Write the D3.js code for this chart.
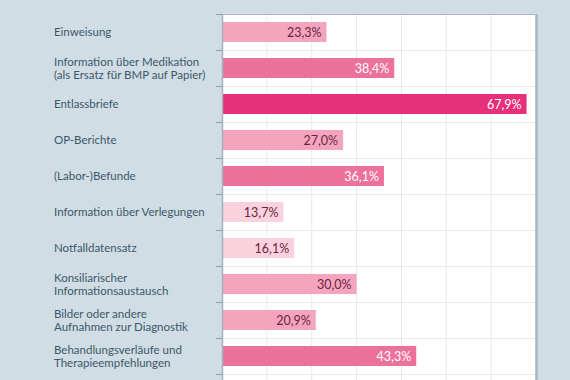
<!DOCTYPE html>
<html><head><meta charset="utf-8">
<script src="https://cdn.jsdelivr.net/npm/d3@7"></script>
<style>
html,body{margin:0;padding:0;background:#d0dde4;}
svg{display:block;}
</style></head>
<body>
<svg id="c" width="570" height="380"></svg>
<script>
const categories = [
  ["Einweisung"],
  ["Information über Medikation", "(als Ersatz für BMP auf Papier)"],
  ["Entlassbriefe"],
  ["OP-Berichte"],
  ["(Labor-)Befunde"],
  ["Information über Verlegungen"],
  ["Notfalldatensatz"],
  ["Konsiliarischer", "Informationsaustausch"],
  ["Bilder oder andere", "Aufnahmen zur Diagnostik"],
  ["Behandlungsverläufe und", "Therapieempfehlungen"]
];
const values = [23.3, 38.4, 67.9, 27.0, 36.1, 13.7, 16.1, 30.0, 20.9, 43.3];
const xTicks = [0, 10, 20, 30, 40, 50, 60, 70];

(function() {
const svg = d3.select("#c");
const pL = 222, pR = 536, pT = 14, bandH = 36;
const x = d3.scaleLinear().domain([0, 70]).range([pL, pR]);
const y = d3.scaleBand().domain(d3.range(values.length)).range([pT, pT + bandH * values.length]).paddingInner(0).paddingOuter(0);

const fill = d3.scaleThreshold().domain([20, 35, 50]).range(["#f9d2de", "#f3a5be", "#ec729b", "#e6307a"]);
const labelCol = d3.scaleThreshold().domain([35]).range(["#6e1f40", "#ffffff"]);

svg.append("rect").attr("x", pL).attr("y", pT).attr("width", pR - pL).attr("height", 400).attr("fill", "#ffffff");

svg.append("g").selectAll("line").data(xTicks.slice(1)).join("line")
  .attr("x1", d => x(d)).attr("x2", d => x(d)).attr("y1", pT).attr("y2", 390)
  .attr("stroke", "#e4eaee").attr("stroke-width", 1);
const bounds = d3.range(values.length + 1).map(i => pT + i * bandH);
svg.append("g").selectAll("line").data(bounds).join("line")
  .attr("x1", pL).attr("x2", pR).attr("y1", d => d + 0.5).attr("y2", d => d + 0.5)
  .attr("stroke", "#e4eaee").attr("stroke-width", 1);

const bh = 20;
svg.append("g").selectAll("rect").data(values).join("rect")
  .attr("x", pL).attr("y", (d, i) => y(i) + (bandH - bh) / 2)
  .attr("width", d => x(d) - pL).attr("height", bh)
  .attr("fill", d => fill(d));

svg.append("g").selectAll("text").data(values).join("text")
  .attr("x", d => x(d) - 5).attr("y", (d, i) => y(i) + bandH / 2)
  .attr("dy", "0.36em").attr("text-anchor", "end")
  .attr("font-family", "Lato, 'Open Sans', sans-serif").attr("font-size", 12.5)
  .attr("fill", d => labelCol(d))
  .text(d => d.toFixed(1).replace(".", ",") + "%");

svg.append("line").attr("x1", pL).attr("x2", pR).attr("y1", pT + 0.5).attr("y2", pT + 0.5)
  .attr("stroke", "#a9b8c2").attr("stroke-width", 1);
svg.append("line").attr("x1", pR + 0.5).attr("x2", pR + 0.5).attr("y1", pT).attr("y2", 390)
  .attr("stroke", "#a7b6c0").attr("stroke-width", 2.5);

const axisG = svg.append("g").attr("transform", `translate(${pL},0)`);
axisG.append("line").attr("x1", 0.5).attr("x2", 0.5).attr("y1", pT).attr("y2", 390)
  .attr("stroke", "#a3b2bc").attr("stroke-width", 1.5);
axisG.selectAll(".tk").data(bounds).join("line").attr("class", "tk")
  .attr("x1", -6).attr("x2", 0).attr("y1", d => d + 0.5).attr("y2", d => d + 0.5)
  .attr("stroke", "#8fa0ab").attr("stroke-width", 1);

const lab = svg.append("g").selectAll("text").data(categories).join("text")
  .attr("font-family", "Lato, 'Open Sans', sans-serif").attr("font-size", 11.5)
  .attr("fill", "#3d5869")
  .attr("transform", (d, i) => `translate(54,${y(i) + bandH / 2})`);
lab.each(function(lines) {
  const t = d3.select(this);
  const lh = 13;
  lines.forEach((s, k) => {
    t.append("tspan").attr("x", 0).attr("y", (k - (lines.length - 1) / 2) * lh).attr("dy", "0.36em").text(s);
  });
});
})();
</script>
</body></html>
